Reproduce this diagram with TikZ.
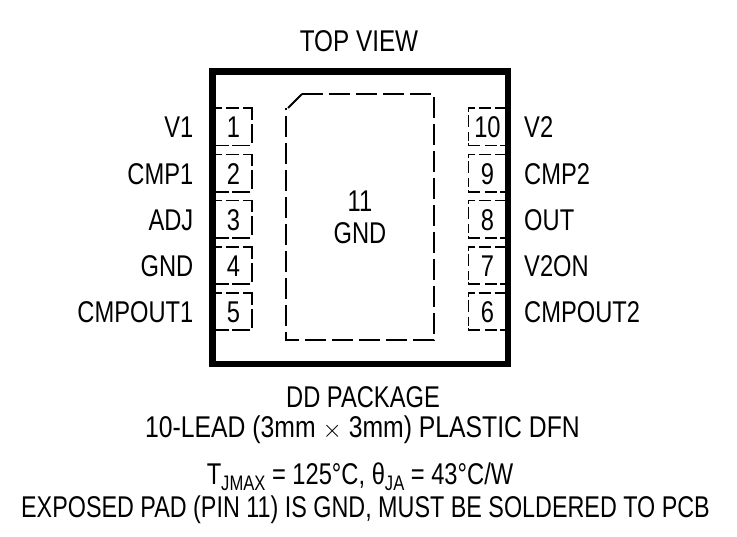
\documentclass[tikz,border=0pt]{standalone}
\usepackage{fontspec}
\setmainfont{Liberation Sans}[FakeStretch=0.79]
\newfontfamily\widefont{Liberation Sans}[FakeStretch=0.825]
\newfontfamily\midfont{Liberation Sans}[FakeStretch=0.81]
\newfontfamily\narrowfont{Liberation Sans}[FakeStretch=0.778]
\newcommand{\subtxt}[1]{\raisebox{-6pt}{\fontsize{21}{23}\selectfont #1}}
\tikzset{
  lbl/.style={inner sep=0pt,font=\fontsize{30}{33}\selectfont,text=black},
  numlbl/.style={lbl,anchor=center},
  leftlbl/.style={lbl,anchor=east},
  rightlbl/.style={lbl,anchor=west},
  capt/.style={lbl,anchor=center},
  paddash/.style={line width=1.8pt,black,dash pattern=on 21.3pt off 5.7pt},
  lpin/.style={line width=1.8pt,black,dash pattern=on 6pt off 4pt on 13pt off 4pt on 21pt off 4pt on 19pt off 4.5pt on 18pt off 3pt on 14pt off 5pt},
  rpin/.style={line width=1.8pt,black,dash pattern=on 10pt off 4pt on 12pt off 4pt on 10.5pt off 3pt on 12pt off 5pt on 9pt off 2.5pt on 13.5pt off 5pt on 12pt off 3pt on 5pt off 5pt},
  body/.style={draw=black,line width=6.4pt,fill=white}
}
\begin{document}
\begin{tikzpicture}[x=1pt,y=-1pt]
\useasboundingbox (0,0) rectangle (737,537);
\node[capt] (top) at (359,41) {\midfont TOP VIEW};
\draw[body] (212.5,71.5) rectangle (507.8,363.8);
\draw[paddash] (302,94) -- (434,94) -- (434,340) -- (286,340) -- (286,108);
\draw[line width=1.8pt] (288,108) -- (302,94);
\foreach \i/\y/\t in {1/108/V1,2/154.5/CMP1,3/200.5/ADJ,4/246.7/GND,5/292.7/CMPOUT1}{
  \draw[lpin] (216,\y) -- (252,\y) -- (252,\y+37.5) -- (216,\y+37.5);
  \node[numlbl] (p\i) at (233.5,\y+19.5) {\i};
  \node[leftlbl] (l\i) at (193.5,\y+19.5) {\t};
}
\foreach \i/\y/\t in {10/108/V2,9/154.5/CMP2,8/200.5/OUT,7/246.7/V2ON,6/292.7/CMPOUT2}{
  \draw[rpin] (505,\y) -- (468.5,\y) -- (468.5,\y+37.5) -- (505,\y+37.5);
  \node[numlbl] (p\i) at (487.5,\y+19.5) {\i};
  \node[rightlbl] (l\i) at (524,\y+19.5) {\t};
}
\node[capt] (pad) at (360,201) {11};
\node[capt] (padg) at (360,233) {GND};
\node[capt] (c1) at (363,397) {DD PACKAGE};
\node[capt] (c2) at (362.5,430) {\widefont 10-LEAD (3mm $\times$ 3mm) PLASTIC DFN};
\node[capt] (c3) at (360,477) {T\subtxt{JMAX} = 125°C, θ\subtxt{JA} = 43°C/W};
\node[capt] (c4) at (365.5,510) {\narrowfont EXPOSED PAD (PIN 11) IS GND, MUST BE SOLDERED TO PCB};
\end{tikzpicture}
\end{document}
